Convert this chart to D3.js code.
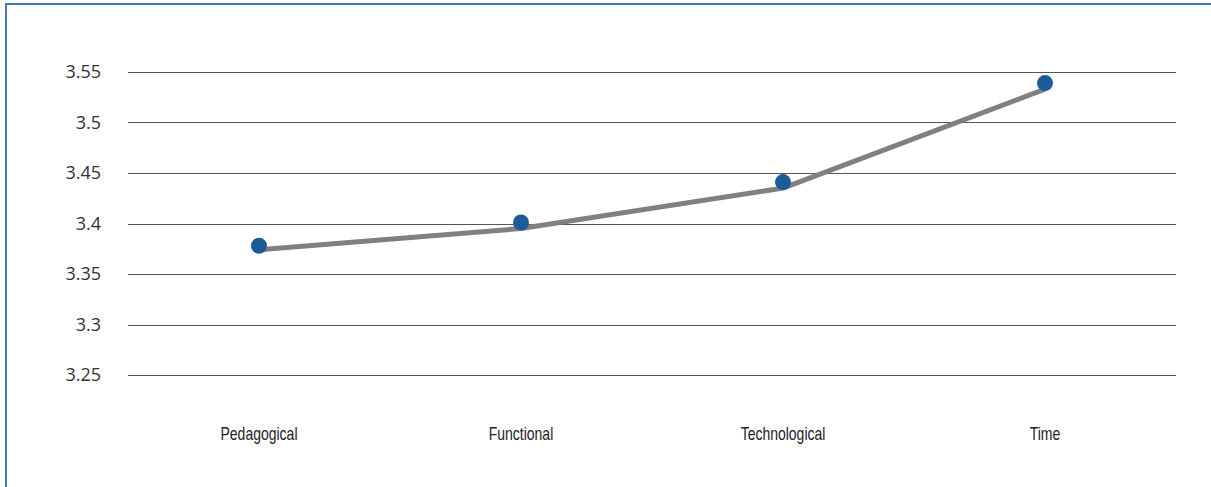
<!DOCTYPE html>
<html>
<head>
<meta charset="utf-8">
<script src="https://cdn.jsdelivr.net/npm/d3@7"></script>
<style>
  html, body { margin: 0; padding: 0; background: #fff; }
  svg { display: block; }
</style>
</head>
<body>
<svg id="chart" width="1211" height="487"></svg>
<script>
const categories = ["Pedagogical", "Functional", "Technological", "Time"];
const markerValues = [3.378, 3.401, 3.441, 3.539];
const lineValues = [3.374, 3.395, 3.435, 3.533];
const yTicks = [3.25, 3.3, 3.35, 3.4, 3.45, 3.5, 3.55];
const yTickLabels = ["3.25", "3.3", "3.35", "3.4", "3.45", "3.5", "3.55"];

const svg = d3.select("#chart");
const W = 1211, H = 487;

// frame
svg.append("rect")
  .attr("x", 6).attr("y", 4)
  .attr("width", W + 20).attr("height", H + 20)
  .attr("fill", "none")
  .attr("stroke", "#3f7db4")
  .attr("stroke-width", 2);

const left = 128, right = 1176;
const x = d3.scaleBand().domain(categories).range([left, right]).paddingInner(0).paddingOuter(0);
const y = d3.scaleLinear().domain([3.25, 3.55]).range([375, 72]);

// gridlines
svg.append("g").selectAll("line").data(yTicks).join("line")
  .attr("x1", left).attr("x2", right)
  .attr("y1", d => Math.round(y(d)) + 0.5)
  .attr("y2", d => Math.round(y(d)) + 0.5)
  .attr("stroke", "#555")
  .attr("stroke-width", 1.2);

// y labels
svg.append("g").selectAll("text").data(yTicks).join("text")
  .attr("x", 101)
  .attr("y", d => y(d))
  .attr("dy", "0.35em")
  .attr("text-anchor", "end")
  .attr("font-family", "'Open Sans', 'Noto Sans', sans-serif")
  .attr("font-size", 18)
  .attr("fill", "#333")
  .text((d, i) => yTickLabels[i]);

// x labels (condensed look)
svg.append("g").selectAll("text").data(categories).join("text")
  .attr("transform", d => `translate(${x(d) + x.bandwidth() / 2},440) scale(0.8,1)`)
  .attr("text-anchor", "middle")
  .attr("font-family", "'Liberation Sans', Arial, sans-serif")
  .attr("font-size", 17.5)
  .attr("fill", "#222")
  .text(d => d);

// line
const line = d3.line()
  .x((d, i) => x(categories[i]) + x.bandwidth() / 2)
  .y(d => y(d));
svg.append("path")
  .datum(lineValues)
  .attr("d", line)
  .attr("fill", "none")
  .attr("stroke", "#808080")
  .attr("stroke-width", 5)
  .attr("stroke-linejoin", "round");

// markers
svg.append("g").selectAll("circle").data(markerValues).join("circle")
  .attr("cx", (d, i) => x(categories[i]) + x.bandwidth() / 2)
  .attr("cy", d => y(d))
  .attr("r", 8)
  .attr("fill", "#1b5b98");
</script>
</body>
</html>
